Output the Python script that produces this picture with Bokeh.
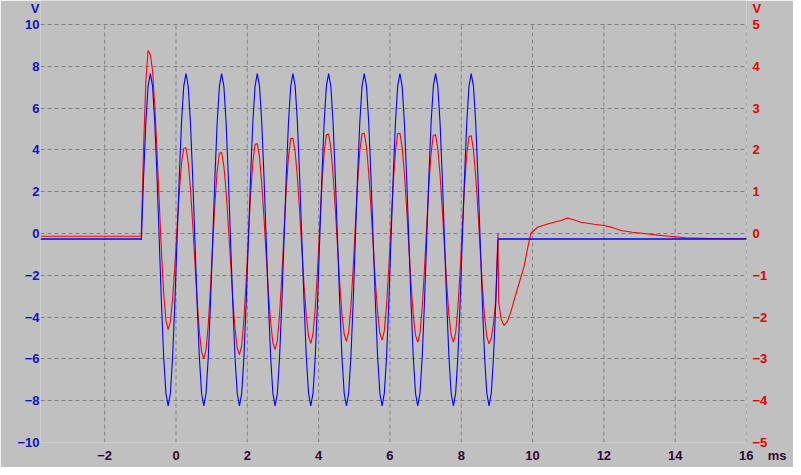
import numpy as np
from bokeh.plotting import figure
from bokeh.models import Range1d, LinearAxis, FixedTicker
from bokeh.embed import file_html
from bokeh.resources import INLINE

# ---------------- data ----------------
x_ticks = [-2, 0, 2, 4, 6, 8, 10, 12, 14, 16]
left_ticks = [-10, -8, -6, -4, -2, 0, 2, 4, 6, 8, 10]
right_ticks = [-5, -4, -3, -2, -1, 0, 1, 2, 3, 4, 5]
time_unit = "ms"
volt_unit = "V"

# burst sampled on a regular time base (ms)
burst_start_ms = -0.97
sample_step_ms = 0.0625

# channel 1 (blue, left axis, V)
blue_pre_t = [-3.8, -0.97]
blue_pre_v = [-0.26, -0.26]
blue_burst_v = [
    -0.3, 2.74, 5.32, 7.05, 7.65, 7.05, 5.32, 2.74, -0.3, -3.34, -5.92, -7.65, -8.25, -7.65, -5.92, -3.34,
    -0.3, 2.74, 5.32, 7.05, 7.65, 7.05, 5.32, 2.74, -0.3, -3.34, -5.92, -7.65, -8.25, -7.65, -5.92, -3.34,
    -0.3, 2.74, 5.32, 7.05, 7.65, 7.05, 5.32, 2.74, -0.3, -3.34, -5.92, -7.65, -8.25, -7.65, -5.92, -3.34,
    -0.3, 2.74, 5.32, 7.05, 7.65, 7.05, 5.32, 2.74, -0.3, -3.34, -5.92, -7.65, -8.25, -7.65, -5.92, -3.34,
    -0.3, 2.74, 5.32, 7.05, 7.65, 7.05, 5.32, 2.74, -0.3, -3.34, -5.92, -7.65, -8.25, -7.65, -5.92, -3.34,
    -0.3, 2.74, 5.32, 7.05, 7.65, 7.05, 5.32, 2.74, -0.3, -3.34, -5.92, -7.65, -8.25, -7.65, -5.92, -3.34,
    -0.3, 2.74, 5.32, 7.05, 7.65, 7.05, 5.32, 2.74, -0.3, -3.34, -5.92, -7.65, -8.25, -7.65, -5.92, -3.34,
    -0.3, 2.74, 5.32, 7.05, 7.65, 7.05, 5.32, 2.74, -0.3, -3.34, -5.92, -7.65, -8.25, -7.65, -5.92, -3.34,
    -0.3, 2.74, 5.32, 7.05, 7.65, 7.05, 5.32, 2.74, -0.3, -3.34, -5.92, -7.65, -8.25, -7.65, -5.92, -3.34,
    -0.3, 2.74, 5.32, 7.05, 7.65, 7.05, 5.32, 2.74, -0.3, -3.34, -5.92, -7.65, -8.25, -7.65, -5.92, -3.34,
    -0.3,
]
blue_post_t = [9.03, 16.0]
blue_post_v = [-0.26, -0.26]

# channel 2 (red, right axis, V)
red_pre_t = [-3.8, -0.975]
red_pre_v = [-0.065, -0.065]
red_burst_v = [
    0.10, 2.10, 3.65, 4.38, 4.28, 3.90, 3.07, 1.97, 0.75, -0.44, -1.43, -2.07, -2.30, -2.11, -1.57, -0.78,
    0.13, 1.00, 1.68, 2.04, 2.05, 1.71, 1.08, 0.24, -0.69, -1.59, -2.34, -2.83, -3.00, -2.79, -2.18, -1.29,
    -0.26, 0.73, 1.50, 1.92, 1.94, 1.61, 1.01, 0.20, -0.69, -1.55, -2.27, -2.74, -2.90, -2.68, -2.06, -1.15,
    -0.10, 0.92, 1.70, 2.13, 2.15, 1.82, 1.20, 0.38, -0.53, -1.40, -2.13, -2.61, -2.78, -2.56, -1.93, -1.02,
    0.04, 1.05, 1.84, 2.27, 2.28, 1.95, 1.34, 0.52, -0.38, -1.25, -1.98, -2.46, -2.63, -2.41, -1.79, -0.89,
    0.16, 1.16, 1.94, 2.36, 2.38, 2.04, 1.42, 0.60, -0.31, -1.19, -1.93, -2.41, -2.58, -2.36, -1.75, -0.85,
    0.20, 1.19, 1.97, 2.39, 2.40, 2.07, 1.45, 0.63, -0.28, -1.16, -1.90, -2.38, -2.55, -2.33, -1.72, -0.83,
    0.21, 1.20, 1.97, 2.39, 2.40, 2.06, 1.44, 0.61, -0.31, -1.20, -1.95, -2.43, -2.60, -2.39, -1.77, -0.88,
    0.16, 1.15, 1.93, 2.35, 2.36, 2.03, 1.41, 0.58, -0.33, -1.21, -1.95, -2.43, -2.60, -2.39, -1.78, -0.89,
    0.15, 1.13, 1.90, 2.32, 2.34, 2.00, 1.38, 0.55, -0.37, -1.25, -1.99, -2.47, -2.64, -2.50, -2.15, -1.60,
]
red_post_t = [9.03, 9.05, 9.12, 9.2, 9.3, 9.4, 9.48, 9.6, 9.76, 9.85, 9.95, 10.14, 10.4, 10.6, 10.8,
              10.98, 11.15, 11.35, 11.73, 12.01, 12.25, 12.48, 12.8, 13.13, 13.5, 13.88, 14.3, 15.0, 16.0]
red_post_v = [0.0, -1.65, -2.05, -2.2, -2.1, -1.85, -1.6, -1.25, -0.8, -0.4, 0.0, 0.15, 0.22, 0.27, 0.31,
              0.37, 0.33, 0.27, 0.22, 0.19, 0.14, 0.07, 0.03, 0.0, -0.04, -0.07, -0.1, -0.12, -0.12]

# ---------------- build ----------------
blue_burst_t = burst_start_ms + sample_step_ms * np.arange(len(blue_burst_v))
red_burst_t = burst_start_ms + sample_step_ms * np.arange(len(red_burst_v))
red_t = list(red_pre_t) + list(red_burst_t) + list(red_post_t)
red_v = list(red_pre_v) + list(red_burst_v) + list(red_post_v)

BG = "#c0c0c0"
BLUE = "#0000ff"
RED = "#ff0000"
LBLUE = "#1010c8"
LRED = "#e00000"
DARK = "#300830"
GRID = "#808080"
FONT = "Liberation Sans"
NBSP = "\u00a0"

# the frame reaches the top of the canvas so that the unit labels "V"
# can be written as extra tick labels of the two vertical axes
LEFT_TOP, LEFT_UNIT_AT = 11.148, 10.79
RIGHT_TOP, RIGHT_UNIT_AT = 5.574, 5.395

p = figure(width=793, height=467, x_range=Range1d(-3.8, 16), y_range=Range1d(-10, LEFT_TOP),
           output_backend="svg", toolbar_location=None,
           min_border_left=40, min_border_right=47, min_border_top=0, min_border_bottom=25)
p.background_fill_color = BG
p.border_fill_color = BG
p.outline_line_color = None
p.extra_y_ranges = {"r": Range1d(-5, RIGHT_TOP)}

def style_axis(ax, color, standoff):
    ax.axis_line_color = None
    ax.major_tick_line_color = None
    ax.minor_tick_line_color = None
    ax.major_tick_out = 0
    ax.major_tick_in = 0
    ax.major_label_standoff = standoff
    ax.major_label_text_color = color
    ax.major_label_text_font = FONT
    ax.major_label_text_font_style = "bold"
    ax.major_label_text_font_size = "13px"

p.xaxis.ticker = FixedTicker(ticks=x_ticks)
# the time unit sits beside the last time label; the padding keeps "16" centred on its tick
last_tick = x_ticks[-1]
p.xaxis.major_label_overrides = {last_tick: NBSP * 9 + str(last_tick) + NBSP * 4 + time_unit}
p.yaxis.ticker = FixedTicker(ticks=left_ticks + [LEFT_UNIT_AT])
p.yaxis.major_label_overrides = {LEFT_UNIT_AT: volt_unit}
style_axis(p.xaxis[0], DARK, 5)
style_axis(p.yaxis[0], LBLUE, 1)

raxis = LinearAxis(y_range_name="r", ticker=FixedTicker(ticks=right_ticks + [RIGHT_UNIT_AT]),
                   major_label_overrides={RIGHT_UNIT_AT: volt_unit})
style_axis(raxis, LRED, 6)
p.add_layout(raxis, "right")

# horizontal grid from the axis grid, vertical grid limited to the -10..10 V span
p.ygrid.ticker = FixedTicker(ticks=left_ticks)
p.ygrid.grid_line_color = GRID
p.ygrid.grid_line_dash = "4 3"
p.ygrid.grid_line_width = 1
p.xgrid.visible = False
p.segment(x0=x_ticks, y0=[left_ticks[0]] * len(x_ticks), x1=x_ticks, y1=[left_ticks[-1]] * len(x_ticks),
          line_color=GRID, line_dash="4 3", line_width=1)

p.line(red_t, red_v, y_range_name="r", line_color=RED, line_width=1.1)
p.line(blue_pre_t, blue_pre_v, line_color=BLUE, line_width=1.6)
p.line(list(blue_burst_t), blue_burst_v, line_color=BLUE, line_width=1.1)
p.line(blue_post_t, blue_post_v, line_color=BLUE, line_width=1.6)

open("out.html", "w").write(file_html(p, INLINE))
